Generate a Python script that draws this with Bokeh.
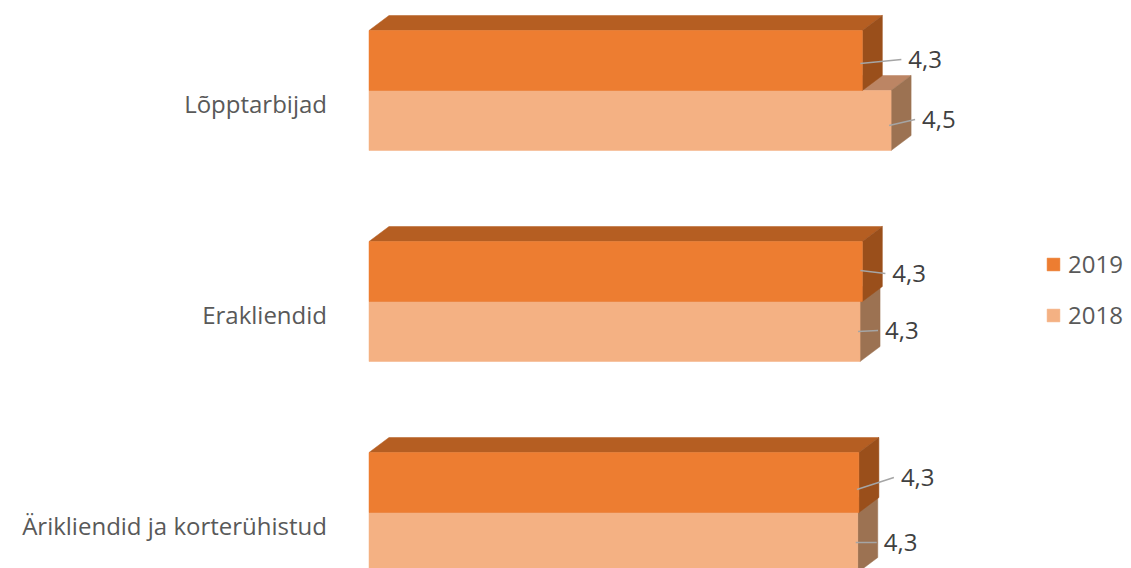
import math
from bokeh.plotting import figure
from bokeh.models import Range1d, ColumnDataSource, Legend, LegendItem
from bokeh.embed import file_html
from bokeh.resources import INLINE
from bokeh.core.properties import value

# ---- data ----
categories = ["Lõpptarbijad", "Erakliendid", "Ärikliendid ja korterühistud"]
series_names = ["2019", "2018"]
values_2019 = [4.29, 4.29, 4.26]
values_2018 = [4.54, 4.27, 4.25]

# ---- layout / style ----
W, H = 1131, 568
X0_PX = 368.5          # pixel of value 0
PX_PER_UNIT = 115.0
Y0_PX = 90.0           # pixel of first category centre
PX_PER_CAT = 211.0
BAR_PX = 60.0
DEPTH_X_PX, DEPTH_Y_PX = 20.0, 15.0
FONT = "Open Sans"
FS = "24px"

ux = 1.0 / PX_PER_UNIT
uy = 1.0 / PX_PER_CAT
dx, dy = DEPTH_X_PX * ux, DEPTH_Y_PX * uy

colors = {
    "2019": dict(front="#ED7D31", top="#B55E22", side="#9A4F1B"),
    "2018": dict(front="#F4B183", top="#BC8564", side="#9C7252"),
}
# label x-gaps (px) and y shifts (px, down positive) as placed in the original
label_gap = {"2019": [46, 30, 42], "2018": [31, 25, 26]}
label_dy = {"2019": [-1, 2, -5], "2018": [-1, -1, 0]}
leader_dy = {"2019": [3, -1, 7], "2018": [5, 0, 0]}


def fmt(v):
    return ("%.1f" % (math.floor(v * 10 + 0.5) / 10)).replace(".", ",")


p = figure(width=W, height=H, output_backend="svg", toolbar_location=None,
           x_range=Range1d(-X0_PX * ux, (W - X0_PX) * ux),
           y_range=Range1d(-(H - Y0_PX) * uy, Y0_PX * uy),
           x_axis_type=None, y_axis_type=None, min_border=0,
           outline_line_color=None, background_fill_color="white")
p.grid.visible = False

fronts = {}
for name, vals, sign in [("2018", values_2018, -1), ("2019", values_2019, 1)]:
    c = colors[name]
    yc = [-i for i in range(len(categories))]
    if sign > 0:
        bottoms = yc
        tops = [y + BAR_PX * uy for y in yc]
    else:
        bottoms = [y - BAR_PX * uy for y in yc]
        tops = yc
    top_xs = [[0, v, v + dx, dx] for v in vals]
    top_ys = [[t, t, t + dy, t + dy] for t in tops]
    side_xs = [[v, v + dx, v + dx, v] for v in vals]
    side_ys = [[b, b + dy, t + dy, t] for b, t in zip(bottoms, tops)]
    p.patches(top_xs, top_ys, fill_color=c["top"], line_color=c["top"], line_width=0.5)
    p.patches(side_xs, side_ys, fill_color=c["side"], line_color=c["side"], line_width=0.5)
    fronts[name] = p.quad(left=[0] * len(vals), right=vals, bottom=bottoms, top=tops,
                          fill_color=c["front"], line_color=c["front"], line_width=0.5)

# data labels + leader lines
for name, vals, sign in [("2019", values_2019, 1), ("2018", values_2018, -1)]:
    centers = [-i + sign * BAR_PX / 2 * uy for i in range(len(vals))]
    gaps = label_gap[name]
    ly = [c - d * uy for c, d in zip(centers, label_dy[name])]
    sy = [c - d * uy for c, d in zip(centers, leader_dy[name])]
    p.segment(x0=[v - 2 * ux for v in vals], y0=sy,
              x1=[v + (g - 7) * ux for v, g in zip(vals, gaps)], y1=ly,
              line_color="#A5A5A5", line_width=1.5)
    src = ColumnDataSource(dict(x=vals, y=ly, t=[fmt(v) for v in vals], off=gaps))
    p.text(x="x", y="y", text="t", x_offset="off", source=src,
           text_font=value(FONT), text_font_size=FS, text_color="#404040",
           text_align="left", text_baseline="middle")

# category labels
csrc = ColumnDataSource(dict(x=[0] * len(categories),
                             y=[-i for i in range(len(categories))],
                             t=categories))
p.text(x="x", y="y", text="t", source=csrc, x_offset=-42, y_offset=13,
       text_font=value(FONT), text_font_size=FS, text_color="#595959",
       text_align="right", text_baseline="middle")

legend = Legend(items=[LegendItem(label=n, renderers=[fronts[n]]) for n in series_names],
                location=(1045, 237), orientation="vertical",
                glyph_width=16, glyph_height=16, label_standoff=7,
                label_text_font=FONT, label_text_font_size=FS, label_text_color="#595959",
                label_height=24, spacing=18, padding=0, margin=0,
                border_line_color=None, background_fill_alpha=0)
p.add_layout(legend)

open("out.html", "w").write(file_html(p, INLINE))
